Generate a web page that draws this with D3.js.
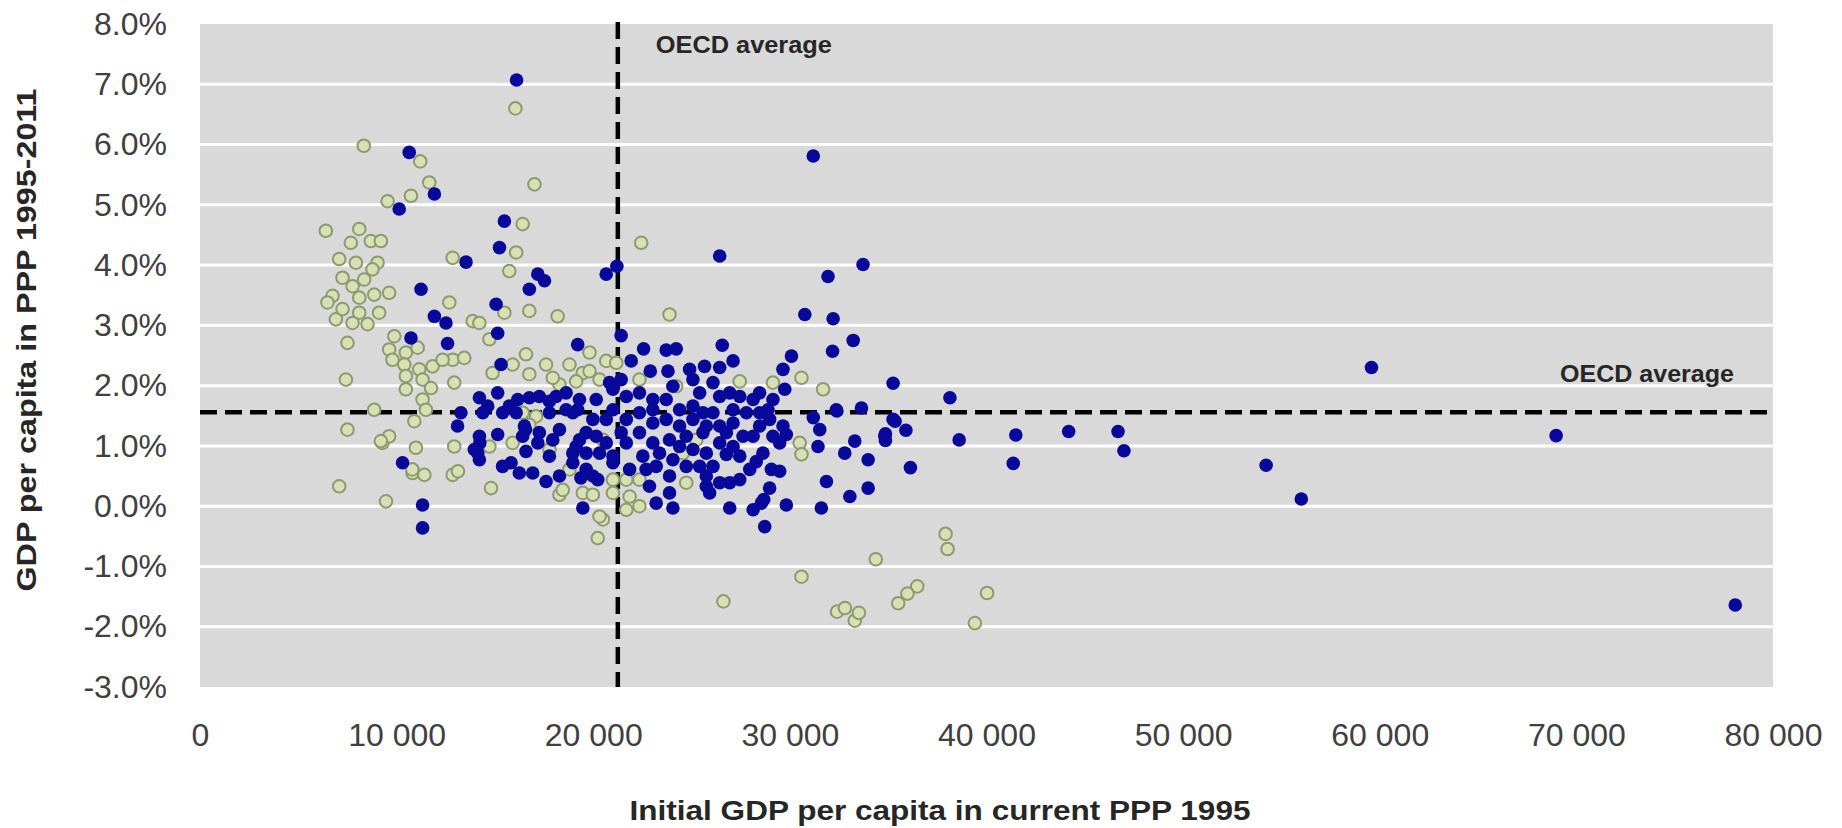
<!DOCTYPE html>
<html>
<head>
<meta charset="utf-8">
<script src="https://cdn.jsdelivr.net/npm/d3@7"></script>
<style>
  html, body { margin: 0; padding: 0; background: #ffffff; }
  svg { display: block; }
</style>
</head>
<body>
<svg id="chart" width="1842" height="828"></svg>
<script>
// Axis ticks
const yTicks = [-3, -2, -1, 0, 1, 2, 3, 4, 5, 6, 7, 8];
const xTicks = [0, 10000, 20000, 30000, 40000, 50000, 60000, 70000, 80000];

// Reference lines (OECD averages)
const oecdAvgGdp = 21250;
const oecdAvgGrowth = 1.56;

// Dark blue series: initial GDP per capita (PPP 1995) and growth 1995-2011 (%)
const darkGdp = [
  16100,10640,11920,10130,15480,15230,13530,17180,17520,16750,
  20660,11240,11920,12510,15060,15140,10730,12590,19210,15310,
  10300,11320,11320,14210,15140,14630,13270,13100,14210,13950,
  14210,15140,15730,16160,16750,17260,17770,16500,17180,16580,
  15820,16920,17940,17600,18280,18960,19130,18960,19640,19980,
  20150,19980,19470,21000,21000,20660,18280,18620,19300,17770,
  17260,18960,19640,20230,21000,21420,21000,21680,20830,21420,
  16240,15390,14230,14130,16550,19370,21200,26430,33720,31940,
  30760,32200,33220,32170,21420,22560,23710,24220,26560,21930,
  22900,23800,24900,25660,26430,27110,30080,29650,29740,35250,
  26090,25070,22350,23030,23710,24390,25070,25580,22350,23030,
  23710,24390,25070,22350,23030,23880,24730,25580,22520,23200,
  24050,23880,25070,25750,26430,26940,27450,28130,27110,27790,
  28460,28890,26430,27110,28460,27620,29140,29820,29480,26430,
  27110,26770,28630,28290,27960,29060,29480,27450,26940,26430,
  25750,26090,25750,25920,28970,26940,28130,28550,28720,29820,
  31600,23880,24050,23200,31190,31520,31430,32360,33640,33300,
  32790,33980,31860,33050,33980,34830,35250,31190,38140,35350,
  35900,34860,36130,38610,41490,41360,44180,46690,46990,54220,
  56010,59580,28670,32390,68970,78080,34860,14380,19210,20150,
  19300,19640,20320,20660,21680,21680,21850,22690,22860,23370,
  24390,24730,25410,23030,24050,25410,26090,25750,26770,28130,
  28460,28970,29140,29650,27450,16080,16410,17770,15390,18110,
  18620
];
const darkGrowth = [
  7.07,5.87,5.18,4.93,4.73,4.29,4.05,3.85,3.74,3.60,
  3.85,3.60,3.15,3.04,3.35,2.87,2.79,2.70,2.68,2.35,
  0.72,0.02,-0.36,1.80,1.88,1.66,1.55,1.33,1.16,0.94,
  0.77,1.19,1.66,1.77,1.80,1.82,1.74,1.33,1.05,0.91,
  0.72,0.55,1.10,0.41,0.50,0.88,0.99,1.55,1.22,1.44,
  1.77,0.50,-0.03,1.94,0.83,1.44,1.27,1.60,1.77,1.55,
  1.22,0.72,0.61,0.44,0.72,1.22,1.60,1.82,2.05,2.10,
  0.55,0.66,1.05,0.88,1.27,0.47,3.98,4.15,4.01,3.81,
  3.18,3.11,2.75,2.57,2.83,2.61,2.59,2.61,2.67,2.41,
  2.24,2.24,2.27,2.32,2.30,2.41,2.49,2.27,1.94,2.04,
  2.05,2.10,1.88,1.77,1.77,1.60,1.66,1.55,1.55,1.38,
  1.44,1.33,1.44,1.22,1.05,1.10,1.16,1.22,0.83,0.66,
  0.77,0.50,0.94,0.88,1.82,1.88,1.82,1.77,1.60,1.55,
  1.55,1.60,1.33,1.38,1.33,1.16,1.16,1.19,1.05,1.05,
  0.99,0.86,0.88,0.74,0.61,0.61,0.58,0.44,0.39,0.39,
  0.50,0.66,0.33,0.22,0.30,-0.03,-0.06,0.05,-0.34,0.02,
  -0.03,0.22,-0.03,0.05,1.47,1.27,0.99,1.60,1.63,1.08,
  0.88,0.77,0.41,0.16,0.30,1.16,1.44,5.81,1.80,1.41,
  1.26,1.09,0.64,1.10,1.18,0.71,1.24,1.24,0.92,0.68,
  0.12,2.30,0.11,1.58,1.17,-1.64,1.20,1.55,1.60,1.16,
  1.10,0.88,0.88,1.05,1.44,1.05,0.61,0.61,0.33,0.88,
  0.99,0.66,0.66,1.60,1.99,1.88,1.55,1.33,1.22,1.16,
  1.88,1.44,1.77,1.33,0.83,1.55,1.16,0.83,1.55,1.82,
  1.88
];

// Pale green series: initial GDP per capita (PPP 1995) and growth 1995-2011 (%)
const paleGdp = [
  16040,8330,11200,11660,10730,9540,17010,6400,8100,7670,
  8690,9200,7080,7930,9030,7250,8350,7760,6740,8100,
  8860,9620,7250,8100,9110,6910,7760,8520,7500,8770,
  6480,16410,16080,15730,12850,12680,13870,14210,15480,16750,
  18190,14720,9880,9620,10470,11070,9790,10390,11150,11830,
  10470,11320,11750,10470,11320,11490,10900,12850,13440,12930,
  12340,7420,8860,7500,9280,9620,10980,10810,11410,7080,
  9460,12930,12850,14800,15900,16580,17600,18790,19470,19810,
  18280,20660,21170,19810,17090,15900,20490,18280,20490,20230,
  21000,14720,14880,18790,19470,16750,17940,19130,20320,16410,
  16750,18450,19980,20320,21000,17770,9200,10800,13120,22440,
  23880,30590,31690,27450,29140,30500,30590,24560,25240,22350,
  24220,21680,22350,21850,22350,21680,24730,34370,37920,38020,
  36480,35980,35510,40030,39410,26620,30590,32400,32800,33300,
  33510
];
const paleGrowth = [
  6.60,5.98,5.72,5.37,5.15,5.06,5.34,4.57,4.60,4.37,
  4.40,4.40,4.10,4.04,4.04,3.79,3.76,3.65,3.49,3.46,
  3.51,3.54,3.27,3.21,3.21,3.10,3.04,3.02,2.71,3.93,
  3.38,4.68,4.21,3.90,4.12,3.38,3.07,3.04,3.21,3.24,
  3.15,2.77,2.82,2.60,2.55,2.63,2.43,2.35,2.27,2.32,
  2.16,2.10,1.96,1.94,1.77,1.60,1.41,2.43,2.46,2.05,
  2.43,2.10,1.60,1.27,1.05,1.16,0.97,0.55,0.52,0.33,
  0.08,0.99,0.52,0.30,2.35,2.52,2.35,2.35,2.21,2.24,
  2.02,2.41,2.38,2.55,1.49,1.05,1.10,0.19,-0.22,-0.53,
  0.44,0.99,2.21,0.61,0.22,2.19,2.13,2.07,2.10,1.55,
  1.35,0.27,0.19,-0.17,0.22,0.94,1.08,0.61,0.58,4.37,
  3.18,2.13,1.94,2.07,2.05,1.05,0.86,0.88,1.10,2.10,
  1.99,0.44,0.44,0.16,0.00,-0.06,0.39,-0.88,-0.46,-0.71,
  -1.33,-1.45,-1.61,-1.44,-1.94,-1.58,-1.17,-1.75,-1.69,-1.90,
  -1.77
];

const darkPoints = darkGdp.map((g, i) => ({ gdp: g, growth: darkGrowth[i] }));
const palePoints = paleGdp.map((g, i) => ({ gdp: g, growth: paleGrowth[i] }));

const svg = d3.select("#chart");
const plot = { left: 200, right: 1773, top: 24, bottom: 687 };

const x = d3.scaleLinear().domain([0, 80000]).range([plot.left, plot.right]);
const y = d3.scaleLinear().domain([-3, 8]).range([plot.bottom, plot.top]);

// Plot background
svg.append("rect")
  .attr("x", plot.left).attr("y", plot.top)
  .attr("width", plot.right - plot.left)
  .attr("height", plot.bottom - plot.top)
  .attr("fill", "#d9d9d9");

// Horizontal gridlines
svg.append("g").selectAll("line")
  .data(yTicks.filter(t => t > -3 && t < 8))
  .join("line")
  .attr("x1", plot.left).attr("x2", plot.right)
  .attr("y1", d => y(d)).attr("y2", d => y(d))
  .attr("stroke", "#ffffff").attr("stroke-width", 3);

// Y axis
const yAxis = svg.append("g")
  .attr("transform", `translate(${plot.left},0)`)
  .call(d3.axisLeft(y).tickValues(yTicks).tickSize(0).tickPadding(33)
    .tickFormat(d => d.toFixed(1) + "%"));
yAxis.select(".domain").remove();
yAxis.selectAll("text")
  .attr("font-family", "'Liberation Sans', Arial, sans-serif")
  .attr("font-size", 32).attr("fill", "#404040");

// X axis
const xAxis = svg.append("g")
  .attr("transform", `translate(0,${plot.bottom})`)
  .call(d3.axisBottom(x).tickValues(xTicks).tickSize(0).tickPadding(36)
    .tickFormat(d => d === 0 ? "0" : d3.format(",")(d).replace(/,/g, " ")));
xAxis.select(".domain").remove();
xAxis.selectAll("text")
  .attr("font-family", "'Liberation Sans', Arial, sans-serif")
  .attr("font-size", 32).attr("fill", "#404040");

// OECD average reference lines
svg.append("line")
  .attr("x1", plot.left).attr("x2", plot.right)
  .attr("y1", y(oecdAvgGrowth)).attr("y2", y(oecdAvgGrowth))
  .attr("stroke", "#000").attr("stroke-width", 4.5)
  .attr("stroke-dasharray", "17,8");
svg.append("line")
  .attr("x1", x(oecdAvgGdp)).attr("x2", x(oecdAvgGdp))
  .attr("y1", plot.top - 2).attr("y2", plot.bottom)
  .attr("stroke", "#000").attr("stroke-width", 4.5)
  .attr("stroke-dasharray", "17,8");

// Pale green points
svg.append("g").selectAll("circle")
  .data(palePoints)
  .join("circle")
  .attr("cx", d => x(d.gdp)).attr("cy", d => y(d.growth))
  .attr("r", 6.3)
  .attr("fill", "#d6e1b3")
  .attr("stroke", "#8f9870").attr("stroke-width", 2);

// Dark blue points
svg.append("g").selectAll("circle")
  .data(darkPoints)
  .join("circle")
  .attr("cx", d => x(d.gdp)).attr("cy", d => y(d.growth))
  .attr("r", 6.8)
  .attr("fill", "#08089a");

// Reference line labels
const narrow = "'Liberation Sans Narrow', 'Arial Narrow', 'Liberation Sans', sans-serif";
svg.append("text")
  .attr("x", x(oecdAvgGdp) + 38).attr("y", 45)
  .attr("dominant-baseline", "central")
  .attr("font-family", narrow).attr("font-weight", "bold")
  .attr("font-size", 23).attr("fill", "#262626")
  .attr("textLength", 176).attr("lengthAdjust", "spacingAndGlyphs")
  .text("OECD average");
svg.append("text")
  .attr("x", 1560).attr("y", y(oecdAvgGrowth) - 38)
  .attr("dominant-baseline", "central")
  .attr("font-family", narrow).attr("font-weight", "bold")
  .attr("font-size", 23).attr("fill", "#262626")
  .attr("textLength", 174).attr("lengthAdjust", "spacingAndGlyphs")
  .text("OECD average");

// Axis titles
svg.append("text")
  .attr("transform", "translate(27,340) rotate(-90)")
  .attr("text-anchor", "middle").attr("dominant-baseline", "central")
  .attr("font-family", "'Liberation Sans', Arial, sans-serif")
  .attr("font-weight", "bold").attr("font-size", 27).attr("fill", "#262626")
  .attr("textLength", 503).attr("lengthAdjust", "spacingAndGlyphs")
  .text("GDP per capita  in PPP 1995-2011");
svg.append("text")
  .attr("x", 940).attr("y", 811)
  .attr("text-anchor", "middle").attr("dominant-baseline", "central")
  .attr("font-family", "'Liberation Sans', Arial, sans-serif")
  .attr("font-weight", "bold").attr("font-size", 27).attr("fill", "#262626")
  .attr("textLength", 621).attr("lengthAdjust", "spacingAndGlyphs")
  .text("Initial GDP per capita in current PPP 1995");
</script>
</body>
</html>
